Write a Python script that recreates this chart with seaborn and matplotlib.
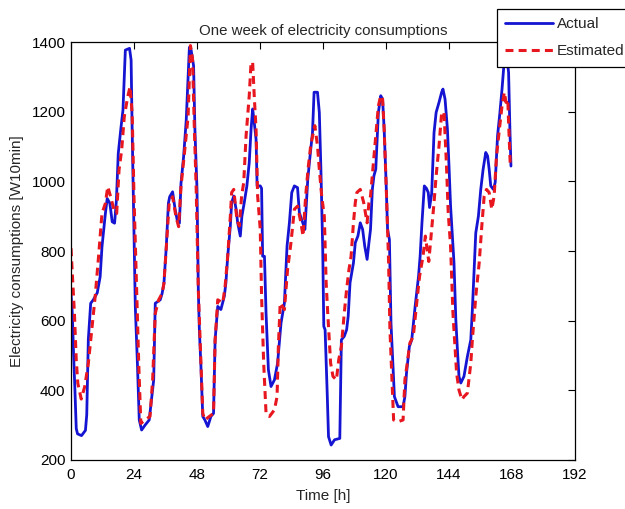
import numpy as np
import pandas as pd
import matplotlib
matplotlib.use('Agg')
import matplotlib.pyplot as plt
import seaborn as sns

# ── DATA (hours vs W10min) ───────────────────────────────────────────────────
t_actual = [0, 0.5, 1, 1.5, 2, 2.5, 4, 5.5, 6, 6.6, 7.5, 8.5, 10, 11.1, 11.8, 13.1, 13.8,
            14.8, 15.7, 16.6, 17.3, 18, 19, 19.8, 20.7, 22.3, 22.9, 23.3, 23.9, 24.5, 25.3,
            26, 26.9, 28.2, 29.8, 30.8, 31.5, 32.1, 34, 34.7, 35.4, 36.3, 37.1, 37.6, 38.7,
            39.7, 40.6, 41.3, 41.9, 42.9, 43.9, 45.1, 45.7, 46.7, 47.2, 48, 48.5, 48.9, 49.5,
            50.2, 51, 52.1, 53.3, 54.3, 54.9, 55.9, 57.1, 58.4, 59, 59.7, 60.7, 61.2, 62,
            62.9, 63.5, 64.5, 65.1, 66, 67, 67.9, 68.6, 69.2, 69.8, 70.5, 70.9, 72.1, 72.6,
            73, 73.7, 74.3, 75.2, 76.2, 77.5, 78.7, 80, 81.3, 82.3, 83.2, 84.1, 85.1, 86.3,
            87, 88.3, 89.1, 90.2, 91.2, 92, 92.6, 93.9, 94.6, 95.2, 95.9, 96.3, 96.8, 97.6,
            98.1, 99.1, 100.4, 102.4, 103, 104.1, 105, 105.6, 106.3, 107.6, 108.3, 109.3,
            110.2, 111.1, 111.9, 112.8, 113.5, 114.1, 114.8, 115.4, 116.1, 117.1, 118, 118.7,
            119.3, 120, 120.6, 121.3, 121.9, 122.6, 123.2, 124.6, 126.5, 127.2, 127.8, 128.9,
            129.8, 131.1, 132.4, 133, 133.7, 134.6, 135.4, 136.1, 136.6, 137.4, 138.3, 139.1,
            140.2, 141.2, 141.7, 142.5, 143.4, 144, 144.6, 145.3, 145.9, 146.6, 147.2, 147.8,
            148.5, 149.7, 151, 152.3, 152.9, 153.6, 154.2, 155.2, 156.1, 157, 158, 158.7,
            159.3, 159.9, 160.9, 161.6, 162.5, 163.4, 164.2, 165.1, 166, 166.7, 167.2, 167.6]
actual = [680, 620, 500, 400, 290, 275, 270, 285, 330, 546, 650, 660, 680, 726, 812, 908, 951,
          937, 884, 880, 946, 1080, 1152, 1205, 1377, 1382, 1348, 1147, 899, 640, 477,
          315, 286, 300, 315, 382, 430, 650, 660, 678, 707, 812, 937, 956, 970,
          918, 884, 880, 994, 1071, 1176, 1385, 1380, 1332, 1150, 977, 689, 574, 469,
          325, 315, 296, 325, 334, 545, 641, 632, 670, 708, 785, 872, 939, 958,
          920, 881, 843, 900, 939, 987, 1054, 1150, 1208, 1170, 1121, 987, 987, 980,
          785, 785, 622, 459, 411, 430, 478, 593, 651, 814, 881, 968, 987, 982,
          910, 881, 862, 1006, 1083, 1140, 1256, 1256, 1198, 1035, 805, 584, 574, 392,
          267, 243, 258, 262, 545, 555, 574, 613, 709, 766, 824, 843,
          881, 862, 814, 776, 824, 862, 977, 1016, 1035, 1198, 1246, 1236,
          1150, 1006, 862, 833, 593, 478, 382, 353, 353, 382, 449, 526,
          545, 641, 728, 785, 881, 987, 980, 968, 925, 965, 1140, 1198,
          1227, 1256, 1265, 1236, 1150, 1044, 929, 843, 766, 603, 517, 440,
          421, 440, 497, 545, 632, 747, 852, 900, 977, 1035, 1083, 1073,
          1035, 987, 977, 997, 1131, 1198, 1265, 1352, 1361, 1313, 1150, 1044]

t_estimated = [0, 1.3, 2, 2.6, 3.9, 5.2, 6.6, 7.9, 9.2, 10.5, 11.8, 13.1, 14, 15.1, 16.4, 17.4,
               18.3, 19.3, 20.3, 21.6, 22.5, 23.3, 24, 24.9, 25.8, 26.6, 28.2, 30.1, 31.1,
               32.1, 33.4, 34.7, 35.4, 36.3, 37.4, 38.7, 40, 41, 41.9, 43.2, 44.6, 45.5, 46.3,
               47, 47.7, 48.5, 49.5, 50.2, 51, 52.7, 54.3, 54.9, 55.9, 57.8, 58.7, 59.7, 60.7,
               61.2, 62, 63.2, 64.1, 65, 65.8, 66.7, 67.9, 68.6, 69.2, 69.8, 70.5, 71.1, 72.1,
               72.6, 73.4, 74.3, 75.6, 77.5, 78.5, 79, 79.7, 81.3, 82.5, 83.8, 85.1, 86.3,
               87.6, 88.4, 89.4, 90.3, 91.3, 92.3, 92.9, 93.9, 94.6, 95.5, 96.5, 97.2, 97.8,
               98.9, 99.8, 101.1, 102, 103, 104.1, 105, 105.9, 106.7, 107.6, 108.3, 108.9,
               110.2, 111.5, 112.8, 113.5, 114.1, 115, 116.1, 117.1, 118, 118.7, 119.3, 120.2,
               121, 121.5, 122.3, 122.9, 124.6, 126.5, 127.2, 128.1, 129.1, 130.4, 131.7,
               132.8, 134.1, 135, 136.3, 137.4, 138.3, 139.1, 140.2, 141.2, 142.1, 143, 143.7,
               144.6, 145.5, 146.3, 146.9, 147.8, 148.9, 149.7, 151, 152.3, 152.9, 154.2,
               155.5, 156.5, 157.4, 158.3, 159.3, 160.3, 161.2, 162.1, 163.2, 164.2, 165.1,
               165.7, 166.4, 166.7, 167.3]
estimated = [808, 621, 487, 420, 375, 410, 477, 573, 669, 784, 908, 937, 985, 956, 918, 908,
             1033, 1090, 1186, 1243, 1272, 1195, 956, 717, 477, 305, 315, 325, 430,
             621, 660, 678, 707, 812, 937, 956, 898, 870, 985, 1080, 1186, 1390, 1352,
             1150, 977, 689, 478, 334, 315, 325, 334, 545, 660, 651, 698, 785, 900,
             968, 977, 891, 872, 958, 997, 1131, 1246, 1342, 1342, 1246, 1150, 958, 862,
             670, 478, 334, 325, 344, 382, 526, 651, 632, 747, 824, 920, 929,
             881, 843, 958, 1035, 1102, 1140, 1160, 1102, 1035, 958, 900, 709, 622,
             478, 440, 430, 488, 526, 622, 690, 747, 785, 881, 939, 968,
             977, 939, 881, 939, 958, 1035, 1131, 1217, 1246, 1236, 1150, 958,
             766, 574, 430, 315, 310, 315, 430, 478, 536, 555, 651,
             728, 785, 843, 770, 862, 939, 1016, 1102, 1198, 1198, 1054, 910,
             814, 622, 526, 449, 401, 373, 382, 392, 478, 545, 670,
             766, 872, 958, 977, 968, 920, 958, 1073, 1150, 1217, 1256,
             1227, 1236, 1169, 1054]

x_ticks = list(range(0, 193, 24))
y_ticks = list(range(200, 1401, 200))

# ── STYLE ────────────────────────────────────────────────────────────────────
sns.set_style('white')
plt.rcParams['font.family'] = ['Liberation Sans', 'DejaVu Sans']

fig = plt.figure(figsize=(6.25, 5.09), dpi=100)
ax = fig.add_axes([0.1136, 0.0963, 0.8064, 0.821])

sns.lineplot(x=t_actual, y=actual, ax=ax, color='#1414d2', linewidth=2.0,
             label='Actual', estimator=None, sort=False)
sns.lineplot(x=t_estimated, y=estimated, ax=ax, color='#e8161e', linewidth=2.2,
             linestyle=(0, (2.6, 1.7)), label='Estimated', estimator=None, sort=False)

ax.set_xlim(0, 192)
ax.set_ylim(200, 1400)
ax.set_xticks(x_ticks)
ax.set_yticks(y_ticks)
ax.tick_params(direction='in', top=True, right=True, length=5, width=0.8,
               labelsize=11, colors='black')
ax.tick_params(axis='x', pad=6)
ax.tick_params(axis='y', pad=4)
for sp in ax.spines.values():
    sp.set_color('black')
    sp.set_linewidth(0.9)

ax.set_title('One week of electricity consumptions', fontsize=10.8, pad=5)
ax.set_xlabel('Time [h]', fontsize=11, labelpad=5)
ax.set_ylabel('Electricity consumptions [W10min]', fontsize=11, labelpad=5)

# ── LEGEND (sticks out of the top-right corner like the original) ────────────
leg = ax.legend(loc='upper left', bbox_to_anchor=(497 / 625, 1 - 9 / 509),
                bbox_transform=fig.transFigure, fancybox=False, framealpha=1,
                edgecolor='black', fontsize=11, handlelength=3.1, handletextpad=0.25,
                borderpad=0.55, labelspacing=0.85, borderaxespad=0)
leg.get_frame().set_linewidth(0.9)

plt.savefig('out.png', dpi=100)
plt.close()
